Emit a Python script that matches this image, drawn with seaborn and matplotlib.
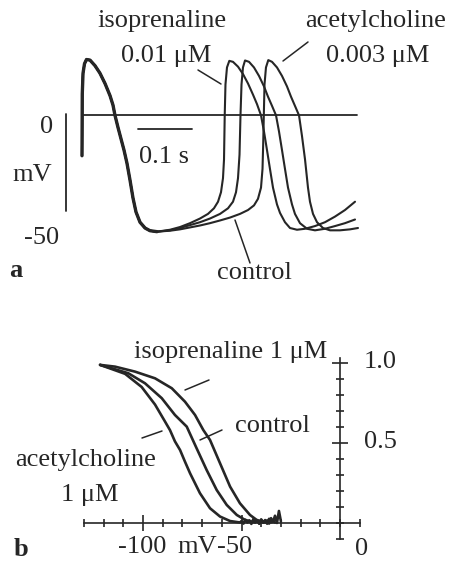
import numpy as np
import pandas as pd
import seaborn as sns
import matplotlib.pyplot as plt
from matplotlib.lines import Line2D

W, H = 452, 562

# ---- panel a: action potentials (ms, mV) ----
shared_t = [0, 0.5, 1.9, 4.6, 8.3, 14.8, 24.1, 33.3, 42.6, 51.9, 57.4, 61.1, 66.7, 72.2,
            77.8, 83.3, 88.9, 94.4, 100.0, 107.4, 116.7, 125.9, 138.9]
shared_v = [-20.9, 11.0, 21.8, 26.7, 28.9, 28.6, 25.7, 21.8, 16.5, 10.2, 5.3, 0.0, -6.3, -12.1,
            -18.0, -24.8, -33.5, -42.7, -50.0, -55.3, -58.3, -59.7, -60.2]

iso_t = [163.0, 181.5, 200.0, 218.5, 233.3, 244.4, 251.9, 257.4, 261.1, 263.0, 264.3, 265.7,
         268.5, 272.8, 279.6, 288.9, 298.1, 307.4, 316.7, 324.1, 331.5, 337.0, 342.6, 348.1,
         353.7, 361.1, 366.7, 375.9, 385.2, 398.1, 413.0, 431.5, 450.0, 468.5, 487.0, 505.6]
iso_v = [-59.2, -57.8, -55.8, -53.4, -51.0, -48.1, -44.7, -39.8, -32.5, -22.8, 0.0, 16.0,
         24.8, 28.2, 27.7, 25.2, 21.4, 16.5, 10.7, 5.8, 0.0, -8.3, -18.0, -27.7,
         -37.4, -46.1, -50.5, -55.3, -58.3, -59.2, -58.7, -57.3, -55.3, -52.4, -49.0, -44.7]

ctrl_t = [163.0, 181.5, 200.0, 218.5, 237.0, 255.6, 270.4, 279.6, 285.2, 288.9, 291.7, 293.5,
          295.4, 298.1, 301.9, 309.3, 318.5, 327.8, 337.0, 344.4, 351.9, 359.3, 364.8, 370.4,
          375.9, 381.5, 388.9, 394.4, 403.7, 416.7, 431.5, 450.0, 468.5, 487.0, 505.6]
ctrl_v = [-59.5, -58.3, -56.8, -55.3, -53.4, -51.0, -48.1, -44.7, -39.8, -32.5, -20.4, 0.0,
          16.0, 24.8, 28.4, 27.7, 24.8, 20.4, 15.0, 9.7, 4.9, 0.0, -8.3, -18.0,
          -27.7, -37.4, -46.1, -51.0, -55.8, -58.7, -59.5, -58.7, -57.3, -55.8, -53.9]

ach_t = [163.0, 181.5, 200.0, 218.5, 237.0, 255.6, 274.1, 292.6, 307.4, 318.5, 325.9, 331.5,
         334.3, 335.7, 336.7, 338.0, 340.7, 345.0, 351.9, 361.1, 370.4, 379.6, 387.0, 394.4,
         401.9, 407.4, 413.0, 418.5, 422.2, 427.8, 435.2, 446.3, 459.3, 477.8, 496.3, 511.1]
ach_v = [-59.7, -59.0, -58.0, -57.0, -55.8, -54.4, -52.9, -51.0, -49.0, -46.6, -43.2, -37.4,
         -27.7, -13.1, 0.0, 16.0, 24.8, 28.6, 27.7, 24.8, 20.4, 15.0, 9.7, 4.9,
         0.0, -10.7, -22.8, -37.4, -44.7, -51.0, -55.3, -58.3, -59.5, -59.5, -59.0, -58.3]

# ---- panel b: availability vs membrane potential ----
b_ach_mv = [-121.8, -109.1, -100.7, -93.9, -88.8, -86.3, -83.8, -81.2, -78.7, -76.1, -71.1,
            -66.0, -60.9, -55.8, -50.8, -50, -49, -48, -47, -46, -45, -44, -43, -42, -41,
            -40, -39, -38, -37, -36, -35, -34]
b_ach_y = [0.988, 0.932, 0.85, 0.74, 0.633, 0.58, 0.51, 0.456, 0.383, 0.31, 0.186,
           0.092, 0.04, 0.012, 0.003, 0.012, -0.004, 0.02, 0.003, 0.016, -0.006, 0.024, 0.006,
           0.014, -0.003, 0.02, 0.002, 0.012, -0.002, 0.01, 0.004, 0.008]
b_ctrl_mv = [-121.8, -107.5, -99.0, -90.5, -83.8, -77.8, -73.1, -67.7, -62.6, -57.5, -52.4,
             -48.2, -43.1, -42, -41, -40, -39, -38, -37, -36, -35, -34, -33]
b_ctrl_y = [0.988, 0.936, 0.873, 0.78, 0.675, 0.602, 0.475, 0.331, 0.206, 0.1125, 0.05,
            0.019, 0.003, 0.014, -0.005, 0.022, 0.004, 0.018, -0.004, 0.026, 0.006, 0.015, 0.002]
b_iso_mv = [-121.8, -114.2, -104.1, -93.9, -85.4, -78.7, -73.6, -69.4, -66.0, -60.9, -55.8,
            -50.8, -45.7, -42.3, -38.1, -37, -36, -35, -34, -33, -32, -31, -30]
b_iso_y = [0.988, 0.977, 0.946, 0.904, 0.842, 0.758, 0.675, 0.581, 0.519, 0.373, 0.227,
           0.123, 0.05, 0.019, 0.003, 0.016, -0.004, 0.03, 0.006, 0.045, 0.0, 0.075, 0.01]

sns.set_style('white')
plt.rcParams['font.family'] = ['Liberation Serif', 'DejaVu Serif']
FS = 19
INK = '#262626'

fig = plt.figure(figsize=(W / 100, H / 100), dpi=100)


def px(x, y):
    return x / W, 1 - y / H


def leader(x0, y0, x1, y1):
    fig.add_artist(Line2D([x0 / W, x1 / W], [1 - y0 / H, 1 - y1 / H],
                          color=INK, lw=1.1, transform=fig.transFigure))


# panel a
axa = fig.add_axes([0, 290 / H, 1, 1 - 290 / H])
traces = pd.concat([
    pd.DataFrame({'t': shared_t + iso_t, 'v': shared_v + iso_v, 'cond': 'isoprenaline'}),
    pd.DataFrame({'t': shared_t + ctrl_t, 'v': shared_v + ctrl_v, 'cond': 'control'}),
    pd.DataFrame({'t': shared_t + ach_t, 'v': shared_v + ach_v, 'cond': 'acetylcholine'}),
])
sns.lineplot(data=traces, x='t', y='v', units='cond', estimator=None, sort=False,
             color=INK, lw=1.5, ax=axa)
sns.lineplot(x=shared_t, y=shared_v, sort=False, color=INK, lw=2.4, ax=axa)
axa.plot([0, 509], [0, 0], color=INK, lw=1.3)
axa.plot([104, 204], [-7, -7], color=INK, lw=1.3)     # 0.1 s bar
axa.plot([-30, -30], [0.5, -49.5], color=INK, lw=1.3)  # mV bar
axa.set_xlim(-151.85, 685.2)
axa.set_ylim(-81.07, 59.7)
axa.axis('off')

# panel b
axb = fig.add_axes([0, 0, 1, 272 / H])
avail = pd.concat([
    pd.DataFrame({'mv': b_ach_mv, 'y': b_ach_y, 'cond': 'acetylcholine'}),
    pd.DataFrame({'mv': b_ctrl_mv, 'y': b_ctrl_y, 'cond': 'control'}),
    pd.DataFrame({'mv': b_iso_mv, 'y': b_iso_y, 'cond': 'isoprenaline'}),
])
sns.lineplot(data=avail, x='mv', y='y', units='cond', estimator=None, sort=False,
             color=INK, lw=1.9, ax=axb)
axb.set_xlim(-172.6, 56.85)
axb.set_ylim(-0.244, 1.456)
for s in ['top', 'right']:
    axb.spines[s].set_visible(False)
for s in ['left', 'bottom']:
    axb.spines[s].set_position(('data', 0))
    axb.spines[s].set_color(INK)
    axb.spines[s].set_linewidth(1.2)
axb.spines['bottom'].set_bounds(-130, 10)
axb.spines['left'].set_bounds(-0.1, 1.03)
axb.set_xticks([-100, -50])
axb.set_xticks(np.arange(-130, 11, 10), minor=True)
axb.set_yticks([0.5, 1.0])
axb.set_yticks(np.round(np.arange(-0.1, 1.01, 0.1), 2), minor=True)
axb.tick_params(which='both', bottom=True, left=True, top=False, right=False,
                labelbottom=False, labelleft=False, direction='inout', width=1.2, color=INK)
axb.tick_params(which='major', length=11)
axb.tick_params(which='minor', length=6)
axb.set_xlabel('')
axb.set_ylabel('')

# text, panel a
tk = dict(fontsize=FS, color=INK, ha='center', va='center')
fig.text(*px(162, 21), 'isoprenaline', **tk)
fig.text(*px(166, 56), '0.01 μM', **tk)
fig.text(*px(376, 21), 'acetylcholine', **tk)
fig.text(*px(378, 56), '0.003 μM', **tk)
fig.text(*px(47, 127), '0', **tk)
fig.text(*px(32, 175), 'mV', **tk)
fig.text(*px(42, 238), '-50', **tk)
fig.text(*px(164, 157), '0.1 s', **tk)
fig.text(*px(254, 273), 'control', **tk)
fig.text(*px(16, 271), 'a', fontsize=FS, color=INK, ha='center', va='center', weight='bold')
leader(198, 70, 221, 84)
leader(308, 42, 283, 61)
leader(250, 263, 235, 220)

# text, panel b
fig.text(*px(231, 352), 'isoprenaline 1 μM', **tk)
fig.text(*px(272, 426), 'control', **tk)
fig.text(*px(86, 460), 'acetylcholine', **tk)
fig.text(*px(90, 495), '1 μM', **tk)
fig.text(*px(380, 362), '1.0', **tk)
fig.text(*px(380, 442), '0.5', **tk)
fig.text(*px(142, 547), '-100', **tk)
fig.text(*px(197, 547), 'mV', **tk)
fig.text(*px(235, 547), '-50', **tk)
fig.text(*px(362, 549), '0', **tk)
fig.text(*px(21, 549), 'b', fontsize=FS, color=INK, ha='center', va='center', weight='bold')
leader(185, 390, 209, 380)
leader(200, 440, 222, 430)
leader(142, 438, 162, 431)

fig.savefig('out.png', dpi=100, facecolor='white')
